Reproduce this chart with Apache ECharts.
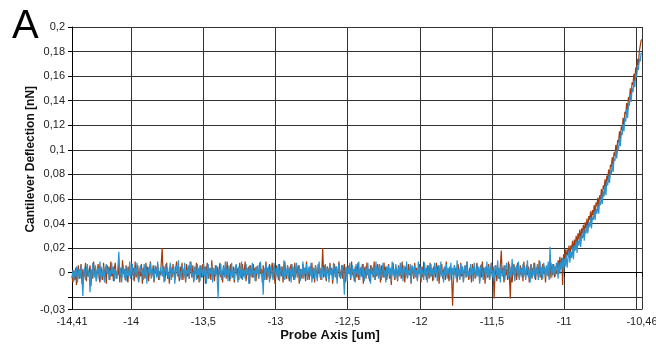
<!DOCTYPE html>
<html>
<head>
<meta charset="utf-8">
<script src="https://cdn.jsdelivr.net/npm/echarts@6/dist/echarts.min.js"></script>
<style>
  html, body { margin: 0; padding: 0; background: #fff; }
  #chart { width: 656px; height: 345px; }
</style>
</head>
<body>
<div id="chart"></div>
<script>
// probe positions [um]: evenly sampled from xStart in steps of xStep
const xStart = -14.41
const xStep = 0.00625

// deflection in pN (converted to nN for the axis), blue trace
const bluePN = [
  -4,2,-7,1,-3,5,-8,0,3,-5,6,-2,-19,-1,4,-6,2,7,-3,1,
  -16,3,-5,8,0,-4,6,-7,2,4,-2,9,-6,1,-3,5,-8,3,7,-1,
  4,-6,2,-3,8,-1,5,-7,3,0,-5,6,17,-2,4,-8,1,6,-4,3,
  -7,5,0,-3,9,-5,2,7,-6,1,4,-2,8,-4,-8,3,6,-1,2,-6,
  7,-3,5,-9,1,4,-2,8,-5,3,0,-7,6,2,-4,9,-1,-6,4,1,
  -3,6,-8,2,7,-2,4,-5,0,8,-6,3,-1,5,-9,2,6,-3,10,-4,
  1,-6,5,3,-4,8,-7,2,-1,6,-5,4,9,-3,0,-8,5,2,-6,7,
  -2,4,-7,6,1,-4,8,-3,5,-9,2,7,-5,3,-1,6,-8,4,0,-3,
  6,-5,-21,3,-2,7,-6,1,5,-4,9,-2,3,-7,6,0,-5,8,-3,2,
  -6,4,7,-1,-8,5,2,-4,9,-6,3,1,-5,7,-2,4,-9,6,0,-3,
  8,-4,2,-7,5,-1,6,-5,3,9,-3,0,-18,4,-6,7,2,-4,5,-8,
  3,6,-2,-6,8,1,-5,4,-3,7,-7,2,5,-1,-4,10,-6,3,-2,6,
  -5,4,1,-8,7,-3,5,-6,2,8,-4,0,6,-7,3,-2,9,-5,4,-1,
  7,-6,2,5,-3,8,-8,1,4,-5,6,-1,-7,3,9,-4,2,-6,5,0,
  -3,7,-5,4,1,-8,6,-2,3,-6,8,2,-4,5,-9,3,7,-1,-5,4,
  6,-3,-18,2,5,-7,4,-1,8,-5,1,6,-4,3,-8,7,0,-3,9,-6,
  2,5,-4,7,-7,1,4,-2,8,-5,3,-9,6,0,-3,5,-6,9,-2,4,
  -5,7,1,-6,3,8,-4,2,-8,5,-1,6,-3,4,-7,9,-2,3,-5,7,
  0,-6,5,-3,8,-2,4,-7,6,1,-4,9,-5,2,-1,7,-8,3,5,-3,
  6,-4,2,-7,9,-1,5,-5,3,0,-6,8,-3,4,-8,6,1,-4,7,-2,
  3,-6,8,-1,5,-7,2,6,-4,9,-3,1,-8,5,-2,7,-5,4,0,-6,
  8,-2,4,-7,6,1,-5,10,-3,3,-6,7,-1,5,-8,2,6,-4,9,-3,
  1,-5,7,-2,4,-7,8,0,-4,6,-3,5,-9,3,7,-1,-6,4,2,-5,
  9,-3,5,-6,2,8,-4,1,-7,6,3,-2,10,-5,4,-8,7,0,-3,6,
  -6,4,8,-1,-5,7,2,-4,11,-2,5,-7,3,6,-3,9,-6,1,4,-4,
  7,-2,5,-6,3,10,-4,2,-8,6,0,-3,8,-5,4,-1,7,-6,3,9,
  -3,5,-5,8,1,-4,6,-2,9,-6,21,3,-4,7,-1,5,-3,8,
  5,-5,8,-1,9,3,12,1,11,5,15,4,12,18,8,17,12,21,11,22,
  18,26,16,26,22,30,21,31,28,35,26,35,32,39,32,41,37,45,36,45,
  43,50,43,52,48,56,48,58,55,63,56,66,62,71,63,74,71,79,73,83,
  80,89,82,93,91,99,93,103,100,110,103,114,112,121,115,126,123,133,126,138,
  136,145,139,150,147,156,151,161,159,168,165,174,172,179,178
]

// deflection in pN, brown trace
const brownPN = [
  -3,-8,2,-6,4,-10,0,6,-5,-2,7,-9,3,-4,-1,8,-7,5,-3,1,
  6,-11,2,-5,9,-2,4,-7,1,7,-4,-8,5,0,-6,8,-3,3,-9,6,
  -1,5,-6,9,-3,2,-7,4,8,-5,1,-2,7,-8,4,-4,10,-1,3,-6,
  6,-3,-8,5,1,-5,8,-2,4,-7,9,-4,2,6,-6,0,-3,7,-9,4,
  1,-5,8,-2,5,-7,3,9,-4,-1,6,-8,2,5,-3,7,-6,1,-2,8,
  20,-3,5,-7,2,8,-5,0,-9,6,3,-4,7,-1,-6,4,9,-3,1,-7,
  5,-2,8,-6,3,0,-8,7,-3,4,-5,9,1,-4,6,-7,2,-1,8,-5,
  3,-8,6,1,-4,7,-2,5,-9,2,8,-5,0,4,-6,10,-3,2,-7,6,
  -1,5,-6,3,8,-4,1,-8,6,-2,4,-5,9,-3,2,-7,7,0,-4,5,
  -8,3,6,-2,4,-6,8,-1,-5,7,-3,2,9,-7,4,-1,5,-9,6,1,
  -4,7,-2,4,-7,5,2,-5,8,-1,3,-8,6,-3,0,9,-6,4,-2,7,
  -5,2,8,-4,5,-9,3,6,-1,-6,7,1,-3,5,-8,4,9,-2,-5,6,
  0,-7,4,7,-3,2,-6,8,-4,5,-1,6,-9,3,1,-5,7,-2,4,-7,
  9,-3,1,-6,5,-2,8,-5,3,-8,6,0,-4,7,-1,4,-6,2,20,-4,
  6,-2,-7,5,3,-5,8,-1,4,-9,2,7,-3,5,-6,1,9,-4,-2,6,
  -5,3,7,-8,2,-3,6,-1,4,-6,9,-2,3,-7,5,0,-4,8,-6,2,
  4,-3,7,-9,1,5,-5,8,-2,3,-7,6,-1,4,-4,9,-6,2,-3,7,
  -1,4,-8,6,2,-4,8,-3,5,-6,1,7,-5,3,-10,4,8,-2,-6,5,
  2,-7,6,-1,4,-5,9,-3,2,-8,5,1,-4,7,-2,3,-9,6,0,-5,
  8,-3,4,-6,2,7,-1,-8,5,-4,9,-2,3,-6,6,1,-5,8,-3,4,
  -7,5,1,-4,8,-2,6,-9,3,-1,7,-5,2,4,-6,9,-3,0,-7,5,
  3,-6,-27,-4,6,-2,4,-8,7,1,-5,8,-3,5,-7,2,6,-4,9,-1,
  -6,4,2,-8,7,-3,5,-5,1,8,-2,3,-7,6,-4,9,-1,4,-9,5,
  2,-4,7,-6,3,8,-3,5,-21,-2,6,-7,4,1,-5,7,18,-3,4,-8,
  6,-2,3,-6,9,-4,-21,5,-8,2,7,-3,4,-6,8,1,-5,6,-2,4,
  -7,9,0,-4,6,-2,5,-8,3,7,-5,4,-1,8,-6,2,5,-3,10,-4,
  3,-6,7,-1,5,-8,4,2,-3,6,-5,8,0,-2,7,-4,5,-1,
  1,10,4,13,3,12,-10,15,10,19,10,19,14,22,12,22,19,26,17,27,
  21,30,22,32,27,35,25,36,32,39,32,41,36,44,36,46,43,50,42,51,
  47,55,47,57,54,61,54,63,59,68,60,71,68,76,69,79,75,84,77,88,
  86,94,88,98,95,104,97,108,106,115,109,119,116,126,119,131,129,138,132,143,
  140,150,143,155,153,162,156,167,164,174,169,180,179,189,190
]

const xTicks = [-14.41, -14, -13.5, -13, -12.5, -12, -11.5, -11, -10.5, -10.46]
const xLabels = [-14.41, -14, -13.5, -13, -12.5, -12, -11.5, -11, -10.46]
const yTicks = [-0.03, -0.02, 0, 0.02, 0.04, 0.06, 0.08, 0.1, 0.12, 0.14, 0.16, 0.18, 0.2]
const yLabels = [-0.03, 0, 0.02, 0.04, 0.06, 0.08, 0.1, 0.12, 0.14, 0.16, 0.18, 0.2]

// [x in um, y in nN]
function toPairs(valuesPN) {
  return valuesPN.map((v, i) => [+(xStart + i * xStep).toFixed(5), v / 1000])
}

// decimal comma like the original software
const comma = v => String(v).replace('.', ',')

const chart = echarts.init(document.getElementById('chart'), null, { renderer: 'canvas' })
chart.setOption({
  animation: false,
  textStyle: { fontFamily: 'Liberation Sans, Arial, sans-serif' },
  grid: { left: 72, right: 14, top: 27, bottom: 35.5, containLabel: false, outerBoundsMode: 'none' },
  graphic: [
    {
      type: 'text',
      left: 12,
      top: 7,
      style: { text: 'A', font: '40px "Liberation Sans", Arial, sans-serif', fill: '#000' }
    }
  ],
  xAxis: {
    type: 'value',
    min: -14.41,
    max: -10.46,
    name: 'Probe Axis [um]',
    nameLocation: 'middle',
    nameGap: 19,
    nameMoveOverlap: false,
    nameTextStyle: { fontWeight: 'bold', fontSize: 13, color: '#111', padding: [0, 54, 0, 0] },
    axisLine: { lineStyle: { color: '#000', width: 1 } },
    axisTick: { customValues: xTicks, length: 4, lineStyle: { color: '#000' } },
    axisLabel: {
      customValues: xLabels,
      formatter: comma,
      color: '#222',
      fontSize: 11,
      margin: 7
    },
    splitLine: { show: true, lineStyle: { color: '#333', width: 1 } }
  },
  yAxis: {
    type: 'value',
    min: -0.03,
    max: 0.2,
    name: 'Cantilever Deflection [nN]',
    nameLocation: 'middle',
    nameGap: 35,
    nameMoveOverlap: false,
    nameTextStyle: { fontWeight: 'bold', fontSize: 12, color: '#111', padding: [0, 0, 0, 18] },
    axisLine: { show: true, lineStyle: { color: '#000', width: 1 } },
    axisTick: { show: true, customValues: yTicks, length: 4, lineStyle: { color: '#000' } },
    axisLabel: {
      customValues: yLabels,
      formatter: comma,
      color: '#222',
      fontSize: 11,
      margin: 7
    },
    splitLine: { show: true, lineStyle: { color: '#333', width: 1 } }
  },
  series: [
    {
      name: 'trace 2',
      type: 'line',
      data: toPairs(brownPN),
      showSymbol: false,
      sampling: null,
      lineStyle: { color: '#a53a0b', width: 1.2 },
      itemStyle: { color: '#a53a0b' }
    },
    {
      name: 'trace 1',
      type: 'line',
      data: toPairs(bluePN),
      showSymbol: false,
      sampling: null,
      lineStyle: { color: '#2b93cf', width: 1.2 },
      itemStyle: { color: '#2b93cf' }
    }
  ]
})
</script>
</body>
</html>
